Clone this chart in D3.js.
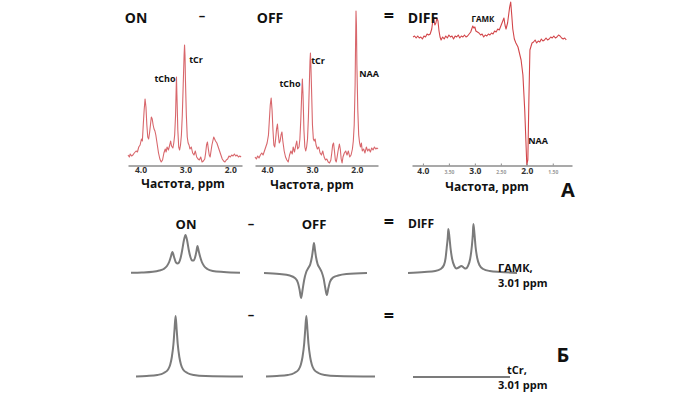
<!DOCTYPE html>
<html lang="ru">
<head>
<meta charset="UTF-8">
<title>MEGA-PRESS: ON – OFF = DIFF</title>
<script src="https://d3js.org/d3.v7.min.js"></script>
<style>
  body { margin: 0; background: #fff; }
  svg text { font-family: "Open Sans", "DejaVu Sans", sans-serif; font-weight: 700; fill: #111; }
</style>
</head>
<body>
<svg id="chart" width="700" height="394"></svg>
<script>
// ---- Panel A: in vivo spectra, [ppm, intensity a.u.] ----
const onSpectrum = [
  [4.28,10],[4.25,8],[4.23,11],[4.20,9],[4.17,10],[4.14,12],[4.10,14],[4.07,13],[4.04,18],[4.01,20],
  [3.98,26],[3.96,24],[3.94,40],[3.92,55],[3.90,66],[3.88,58],[3.86,40],[3.84,28],[3.82,26],[3.80,32],
  [3.78,40],[3.76,48],[3.74,46],[3.72,40],[3.70,36],[3.68,34],[3.66,30],[3.64,24],[3.62,18],[3.60,12],
  [3.57,6],[3.54,3],[3.51,5],[3.48,12],[3.45,16],[3.43,13],[3.41,18],[3.38,15],[3.35,20],[3.33,24],
  [3.31,19],[3.28,17],[3.26,22],[3.24,30],[3.22,50],[3.21,70],[3.20,88],[3.19,70],[3.17,35],[3.15,18],
  [3.13,15],[3.11,20],[3.09,30],[3.07,50],[3.05,80],[3.03,110],[3.02,120],[3.01,110],[3.00,85],[2.98,50],
  [2.96,28],[2.94,22],[2.92,20],[2.90,16],[2.87,18],[2.84,12],[2.81,10],[2.78,14],[2.75,8],[2.72,6],
  [2.69,5],[2.66,8],[2.63,3],[2.60,4],[2.57,6],[2.55,12],[2.53,20],[2.51,23],[2.49,16],[2.47,10],
  [2.45,8],[2.43,14],[2.41,20],[2.39,24],[2.37,28],[2.35,26],[2.33,24],[2.30,22],[2.27,18],[2.24,14],
  [2.21,10],[2.18,6],[2.15,4],[2.12,3],[2.09,5],[2.06,6],[2.03,9],[2.00,8],[1.97,10],[1.94,9],
  [1.91,11],[1.88,9],[1.85,10],[1.82,8],[1.79,9],[1.76,8]
];
const offSpectrum = [
  [4.27,8],[4.24,6],[4.21,9],[4.18,7],[4.15,10],[4.12,12],[4.09,10],[4.06,14],[4.03,18],[4.00,22],
  [3.97,30],[3.95,45],[3.93,60],[3.91,67],[3.89,55],[3.87,35],[3.85,20],[3.83,18],[3.81,26],[3.79,36],
  [3.77,41],[3.75,30],[3.73,22],[3.71,24],[3.69,30],[3.67,33],[3.65,24],[3.62,14],[3.59,8],[3.56,5],
  [3.53,3],[3.50,10],[3.47,14],[3.44,11],[3.42,18],[3.39,13],[3.36,20],[3.34,24],[3.32,16],[3.29,18],
  [3.27,26],[3.25,45],[3.23,70],[3.215,86],[3.20,70],[3.18,35],[3.16,18],[3.14,14],[3.12,18],[3.10,26],
  [3.08,48],[3.06,80],[3.045,104],[3.035,112],[3.025,100],[3.01,75],[2.99,40],[2.97,26],[2.95,24],[2.93,26],
  [2.91,20],[2.88,16],[2.85,18],[2.82,12],[2.79,10],[2.76,14],[2.73,8],[2.70,5],[2.67,6],[2.64,3],
  [2.61,2],[2.58,5],[2.56,12],[2.54,20],[2.52,22],[2.50,14],[2.48,5],[2.46,3],[2.44,8],[2.42,14],
  [2.39,21],[2.37,16],[2.35,6],[2.33,2],[2.31,8],[2.28,12],[2.25,14],[2.22,10],[2.19,14],[2.16,8],
  [2.13,10],[2.10,16],[2.08,24],[2.06,40],[2.04,80],[2.03,120],[2.02,154],[2.01,140],[2.00,100],[1.98,55],
  [1.96,30],[1.94,22],[1.92,18],[1.90,22],[1.88,14],[1.85,16],[1.82,12],[1.79,18],[1.76,14],[1.73,16],
  [1.70,13],[1.67,17],[1.64,15],[1.61,18],[1.58,16],[1.55,17],[1.53,16]
];
const diffSpectrum = [
  [4.19,0],[4.16,1],[4.13,-1],[4.10,1],[4.07,-1],[4.04,0],[4.01,-2],[3.98,1],[3.95,0],[3.92,3],
  [3.89,2],[3.86,3],[3.83,8],[3.81,16],[3.79,18],[3.77,12],[3.75,14],[3.73,19],[3.71,16],[3.69,6],
  [3.67,0],[3.65,-3],[3.62,0],[3.59,-2],[3.56,1],[3.53,-1],[3.50,2],[3.47,0],[3.44,1],[3.41,-2],
  [3.38,1],[3.35,0],[3.32,2],[3.29,-1],[3.26,1],[3.23,0],[3.20,2],[3.17,0],[3.14,1],[3.11,3],
  [3.08,5],[3.06,8],[3.04,11],[3.02,9],[3.00,10],[2.98,6],[2.95,5],[2.92,4],[2.89,2],[2.86,3],
  [2.83,0],[2.80,2],[2.77,1],[2.74,3],[2.71,2],[2.68,4],[2.65,3],[2.62,6],[2.59,5],[2.56,8],
  [2.53,7],[2.50,11],[2.47,15],[2.44,19],[2.42,12],[2.40,8],[2.37,14],[2.35,22],[2.33,30],[2.31,35],
  [2.29,22],[2.27,8],[2.24,-2],[2.21,-6],[2.17,-10],[2.11,-23],[2.075,-38],[2.04,-73],[2.00,-128],[1.98,-123],
  [1.96,-63],[1.94,-13],[1.90,-6],[1.87,-5],[1.84,-3],[1.81,-6],[1.78,-4],[1.75,-5],[1.72,-2],[1.69,-4],
  [1.66,-3],[1.63,-1],[1.60,-3],[1.57,-2],[1.54,0],[1.51,-1],[1.48,1],[1.45,-1],[1.42,0],[1.39,2],
  [1.36,1],[1.33,-1],[1.30,-2],[1.27,-1],[1.24,-3]
];
const mainTicks = [4.0, 3.0, 2.0];
const diffTicks = [4.0, 3.5, 3.0, 2.5, 2.0, 1.5];

// ---- Panel B: schematic GABA / tCr signals at 3.01 ppm ----
const gabaOn = [
  [3.50,0.005],[3.40,0.01],[3.30,0.025],[3.24,0.05],[3.20,0.08],[3.17,0.14],[3.15,0.22],[3.135,0.32],
  [3.12,0.42],[3.105,0.32],[3.09,0.22],[3.075,0.19],[3.06,0.21],[3.045,0.30],[3.03,0.46],[3.015,0.65],
  [3.00,0.76],[2.985,0.65],[2.97,0.46],[2.955,0.32],[2.94,0.25],[2.925,0.25],[2.91,0.33],[2.90,0.43],
  [2.89,0.54],[2.88,0.45],[2.865,0.32],[2.85,0.22],[2.83,0.14],[2.80,0.08],[2.75,0.04],[2.65,0.02],[2.50,0.005]
];
const gabaOff = [
  [3.50,0],[3.35,-0.02],[3.25,-0.05],[3.20,-0.10],[3.17,-0.20],[3.155,-0.33],[3.14,-0.50],[3.125,-0.33],
  [3.11,-0.14],[3.09,0.02],[3.07,0.10],[3.05,0.18],[3.035,0.32],[3.025,0.46],[3.015,0.60],[3.005,0.46],
  [2.995,0.32],[2.98,0.18],[2.96,0.10],[2.94,0.02],[2.92,-0.12],[2.905,-0.30],[2.89,-0.44],[2.875,-0.30],
  [2.86,-0.18],[2.83,-0.09],[2.78,-0.05],[2.70,-0.02],[2.50,0]
];
const gabaDiff = [
  [3.50,0],[3.35,0.02],[3.25,0.04],[3.20,0.08],[3.17,0.16],[3.155,0.30],[3.145,0.50],[3.135,0.72],
  [3.13,0.88],[3.12,0.72],[3.11,0.50],[3.095,0.28],[3.075,0.14],[3.055,0.09],[3.035,0.11],[3.01,0.14],
  [2.99,0.11],[2.97,0.09],[2.95,0.14],[2.93,0.28],[2.915,0.52],[2.905,0.78],[2.90,0.98],[2.89,0.78],
  [2.88,0.52],[2.865,0.30],[2.845,0.16],[2.81,0.08],[2.75,0.04],[2.65,0.02],[2.50,0]
];
const crOn = [
  [3.50,0.01],[3.40,0.02],[3.30,0.04],[3.24,0.08],[3.20,0.15],[3.18,0.25],[3.165,0.40],[3.15,0.66],
  [3.14,0.95],[3.13,1.22],[3.12,0.95],[3.11,0.66],[3.095,0.40],[3.08,0.25],[3.06,0.15],[3.02,0.08],
  [2.96,0.04],[2.85,0.02],[2.50,0.01]
];
const crOff = crOn.map(d => [d[0], d[1]]);   // same tCr line in OFF
const crDiff = [[3.50,0],[2.50,0]];

const svg = d3.select("#chart");

// shared y scale for ON/OFF in vivo spectra
const yA = d3.scaleLinear().domain([0, 160]).range([165, 5]);
const yDiff = d3.scaleLinear().domain([-128, 35]).range([165, 2]);

function spectrum(data, x, y, color) {
    svg.append("path")
        .datum(data)
        .attr("fill", "none")
        .attr("stroke", color)
        .attr("stroke-width", 1.1)
        .attr("stroke-linejoin", "round")
        .attr("d", d3.line().x(d => x(d[0])).y(d => y(d[1])));
}

function axis(x, ticks, minor) {
    const g = svg.append("g")
        .attr("transform", "translate(0,165.5)")
        .call(d3.axisBottom(x)
            .tickValues(ticks)
            .tickSize(minor ? 2 : 0)
            .tickSizeOuter(0)
            .tickPadding(minor ? 0 : 1.5)
            .tickFormat(d => minor && Math.round(d) !== d ? d.toFixed(2) : d.toFixed(1)));
    g.select(".domain").attr("stroke", "#8c8c8c").attr("stroke-width", 1.5);
    g.selectAll(".tick line").attr("stroke", "#8c8c8c").attr("transform", "translate(0,-2)");
    g.selectAll(".tick text")
        .attr("font-size", 8.5)
        .style("fill", "#333");
    if (minor) {
        g.selectAll(".tick text")
            .filter(d => Math.round(d) !== d)
            .attr("y", 5)
            .attr("font-size", 5)
            .attr("font-weight", 400)
            .style("fill", "#999");
    }
}

function label(x, y, txt, size, anchor) {
    svg.append("text")
        .attr("x", x).attr("y", y)
        .attr("font-size", size)
        .attr("text-anchor", anchor || "start")
        .text(txt);
}

// ON
const xOn = d3.scaleLinear().domain([4.28, 1.74]).range([128, 242]);
spectrum(onSpectrum, xOn, yA, "#d8676c");
axis(xOn, mainTicks, false);
// OFF
const xOff = d3.scaleLinear().domain([4.27, 1.53]).range([255, 378]);
spectrum(offSpectrum, xOff, yA, "#d8676c");
axis(xOff, mainTicks, false);
// DIFF
const xDiff = d3.scaleLinear().domain([4.21, 1.13]).range([412, 572]);
spectrum(diffSpectrum, xDiff, yDiff, "#d2464a");
axis(xDiff, diffTicks, true);

// panel A labels
label(136, 23, "ON", 14, "middle");
label(202, 20, "–", 13, "middle");
label(270, 23, "OFF", 14, "middle");
label(389, 22, "=", 18, "middle");
label(423, 23, "DIFF", 14, "middle");
label(165, 82, "tCho", 9, "middle");
label(196, 63, "tCr", 9, "middle");
label(290, 87, "tCho", 9, "middle");
label(318, 64, "tCr", 9, "middle");
label(369, 77, "NAA", 9, "middle");
label(483, 22, "ГАМК", 8, "middle");
label(538, 144, "NAA", 9, "middle");
label(183, 188, "Частота, ppm", 12, "middle");
label(312, 189, "Частота, ppm", 12, "middle");
label(487, 191, "Частота, ppm", 12, "middle");
label(568, 197, "A", 20, "middle");

// ---- Panel B ----
const yB1 = d3.scaleLinear().domain([0, 1]).range([273, 223]);
const yB2 = d3.scaleLinear().domain([0, 1]).range([377, 327]);
const schematic = [
    { data: gabaOn,   range: [131, 240], y: yB1 },
    { data: gabaOff,  range: [264, 367], y: yB1 },
    { data: gabaDiff, range: [408, 517], y: yB1 },
    { data: crOn,     range: [136, 243], y: yB2 },
    { data: crOff,    range: [266, 375], y: yB2 },
    { data: crDiff,   range: [413, 510], y: yB2 }
];
schematic.forEach(p => {
    const x = d3.scaleLinear().domain([3.5, 2.5]).range(p.range);
    svg.append("path")
        .datum(p.data)
        .attr("fill", "none")
        .attr("stroke", "#7b7b7b")
        .attr("stroke-width", 2)
        .attr("d", d3.line().curve(d3.curveMonotoneX).x(d => x(d[0])).y(d => p.y(d[1])));
});

label(186, 229, "ON", 13, "middle");
label(251, 228, "–", 13, "middle");
label(314, 229, "OFF", 13, "middle");
label(389, 228, "=", 18, "middle");
label(408, 228, "DIFF", 12, "start");
label(498, 272, "ГАМК,", 11, "start");
label(498, 287, "3.01 ppm", 11, "start");
label(251, 319, "–", 13, "middle");
label(389, 322, "=", 18, "middle");
label(507, 374, "tCr,", 11, "start");
label(498, 389, "3.01 ppm", 11, "start");
label(563, 362, "Б", 20, "middle");
</script>
</body>
</html>
